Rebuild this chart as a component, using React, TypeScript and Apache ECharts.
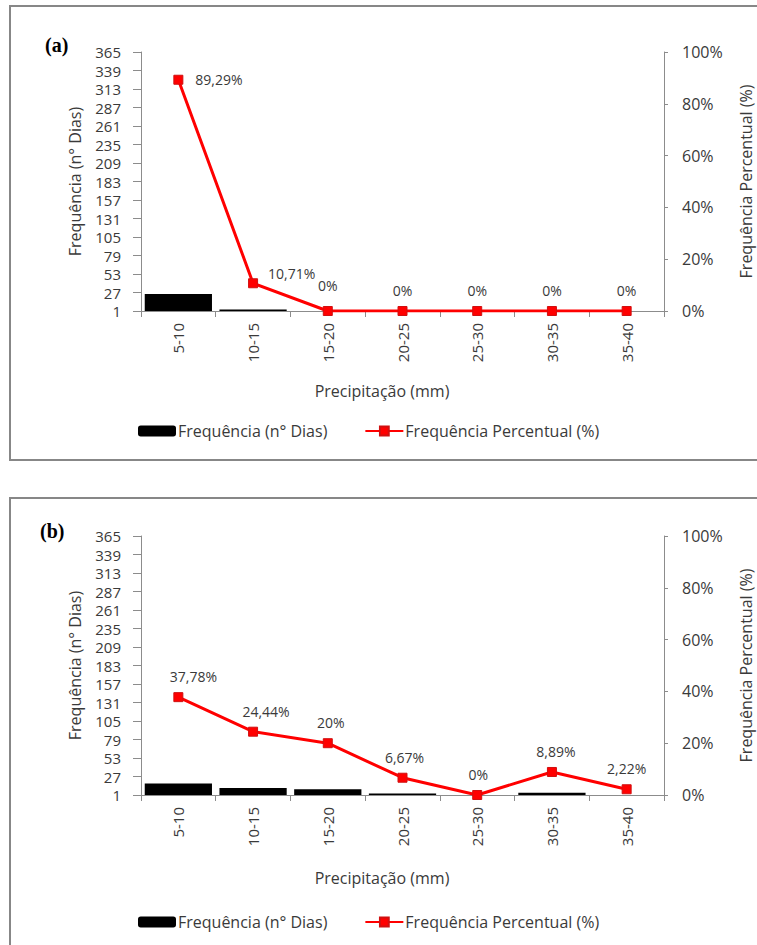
import React, { useEffect, useRef } from "react";
import * as echarts from "echarts";

const categories = ["5-10", "10-15", "15-20", "20-25", "25-30", "30-35", "35-40"];
const daysA = [25, 3, 0, 0, 0, 0, 0];
const pctA = [89.29, 10.71, 0, 0, 0, 0, 0];
const daysB = [17, 11, 9, 3, 0, 4, 1];
const pctB = [37.78, 24.44, 20, 6.67, 0, 8.89, 2.22];

const leftAxisMin = 1;
const leftAxisMax = 365;
const leftAxisStep = 26;
const rightAxisMax = 100;
const rightAxisStep = 20;

const barName = "Frequência (n° Dias)";
const lineName = "Frequência Percentual (%)";
const xTitle = "Precipitação (mm)";
const rightTitle = "Frequência Percentual (%)";

const FONT = "Open Sans";
const TXT = "#3a3a3a";
const AX = "#8c8c8c";

const fmtPct = (v: number) => String(v).replace(".", ",") + "%";

// label placement styles (per panel)
const labelStyleA = [
  { position: "right", offset: [4, 0] },
  { position: "right", offset: [2, -10] },
  { position: "top", offset: [0, -5] },
  { position: "top", offset: [0, 0] },
  { position: "top", offset: [0, 0] },
  { position: "top", offset: [0, 0] },
  { position: "top", offset: [0, 0] },
];
const labelStyleB = [
  { position: "top", offset: [15, 0] },
  { position: "top", offset: [13, 0] },
  { position: "top", offset: [3, 0] },
  { position: "top", offset: [2, 0] },
  { position: "top", offset: [1, 0] },
  { position: "top", offset: [4, 0] },
  { position: "top", offset: [0, 0] },
];

function buildPanel(idx: number, top: number, days: number[], pct: number[], labelStyle: any[]) {
  const grid = { left: 141, top, width: 523, height: 259, containLabel: false, outerBoundsMode: "none" };
  const xAxis = {
    type: "category",
    gridIndex: idx,
    data: categories,
    boundaryGap: true,
    axisLine: { lineStyle: { color: AX, width: 1 } },
    axisTick: { show: true, length: 6, lineStyle: { color: AX }, alignWithLabel: false },
    axisLabel: { rotate: 90, color: TXT, fontFamily: FONT, fontSize: 15, margin: 12 },
    splitLine: { show: false },
  };
  const yLeft = {
    type: "value",
    gridIndex: idx,
    min: leftAxisMin,
    max: leftAxisMax,
    interval: leftAxisStep,
    position: "left",
    name: barName,
    nameLocation: "middle",
    nameGap: 58,
    nameTextStyle: { color: TXT, fontFamily: FONT, fontSize: 16 },
    axisLine: { show: true, lineStyle: { color: AX } },
    axisTick: { show: true, length: 8, lineStyle: { color: AX } },
    axisLabel: { color: TXT, fontFamily: FONT, fontSize: 15, lineHeight: 16, margin: 20 },
    splitLine: { show: false },
  };
  const yRight = {
    type: "value",
    gridIndex: idx,
    min: 0,
    max: rightAxisMax,
    interval: rightAxisStep,
    position: "right",
    name: rightTitle,
    nameLocation: "middle",
    nameRotate: 90,
    nameGap: 74,
    nameTextStyle: { color: TXT, fontFamily: FONT, fontSize: 16 },
    axisLine: { show: true, lineStyle: { color: AX } },
    axisTick: { show: true, length: 4, lineStyle: { color: AX } },
    axisLabel: { color: TXT, fontFamily: FONT, fontSize: 16, margin: 18, formatter: "{value}%" },
    splitLine: { show: false },
  };
  const bar = {
    name: barName,
    type: "bar",
    xAxisIndex: idx,
    yAxisIndex: idx * 2,
    data: days,
    barCategoryGap: "10%",
    itemStyle: { color: "#000000" },
    clip: true,
  };
  const line = {
    name: lineName,
    type: "line",
    xAxisIndex: idx,
    yAxisIndex: idx * 2 + 1,
    data: pct.map((v, i) => ({
      value: v,
      label: {
        show: true,
        position: labelStyle[i].position,
        offset: labelStyle[i].offset,
        distance: 8,
        formatter: (p: any) => fmtPct(p.value),
        color: TXT,
        fontFamily: FONT,
        fontSize: 14,
        lineHeight: 15,
      },
    })),
    symbol: "rect",
    symbolSize: 9,
    lineStyle: { color: "#ff0000", width: 3 },
    itemStyle: { color: "#ff0000", borderColor: "#d01010", borderWidth: 1 },
    z: 5,
  };
  return { grid, xAxis, yAxes: [yLeft, yRight], series: [bar, line] };
}

export default function App() {
  const ref = useRef<HTMLDivElement>(null);
  useEffect(() => {
    if (!ref.current) return;
    const chart = echarts.init(ref.current, null, { renderer: "svg" });
    const a = buildPanel(0, 52, daysA, pctA, labelStyleA);
    const b = buildPanel(1, 536, daysB, pctB, labelStyleB);
    const legendCommon = {
      data: [barName, { name: lineName }],
      left: 133,
      itemWidth: 38,
      itemHeight: 11,
      itemGap: 37,
      textStyle: { color: TXT, fontFamily: FONT, fontSize: 16, padding: [0, 0, 0, -3] },
      selectedMode: false,
    };
    const option: any = {
      animation: false,
      backgroundColor: "#ffffff",
      grid: [a.grid, b.grid],
      xAxis: [a.xAxis, b.xAxis],
      yAxis: [...a.yAxes, ...b.yAxes],
      series: [...a.series, ...b.series],
      legend: [
        { ...legendCommon, top: 418 },
        { ...legendCommon, top: 909 },
      ],
      graphic: [
        {
          type: "rect",
          shape: { x: 10, y: 6, width: 760, height: 454 },
          style: { fill: "none", stroke: "#878787", lineWidth: 2 },
          silent: true,
        },
        {
          type: "rect",
          shape: { x: 10, y: 498, width: 760, height: 460 },
          style: { fill: "none", stroke: "#878787", lineWidth: 2 },
          silent: true,
        },
        {
          type: "text",
          x: 45,
          y: 45,
          style: { text: "(a)", font: "bold 20px 'Liberation Serif'", fill: "#000", textVerticalAlign: "middle" },
        },
        {
          type: "text",
          x: 40,
          y: 531,
          style: { text: "(b)", font: "bold 20px 'Liberation Serif'", fill: "#000", textVerticalAlign: "middle" },
        },
        {
          type: "text",
          x: 382,
          y: 391,
          style: { text: xTitle, font: "16px 'Open Sans'", fill: TXT, textAlign: "center", textVerticalAlign: "middle" },
        },
        {
          type: "text",
          x: 382,
          y: 878,
          style: { text: xTitle, font: "16px 'Open Sans'", fill: TXT, textAlign: "center", textVerticalAlign: "middle" },
        },
      ],
    };
    chart.setOption(option);
    return () => chart.dispose();
  }, []);
  return (
    <div
      ref={ref}
      style={{ position: "absolute", left: 0, top: 0, width: 757, height: 945, background: "#fff" }}
    />
  );
}
